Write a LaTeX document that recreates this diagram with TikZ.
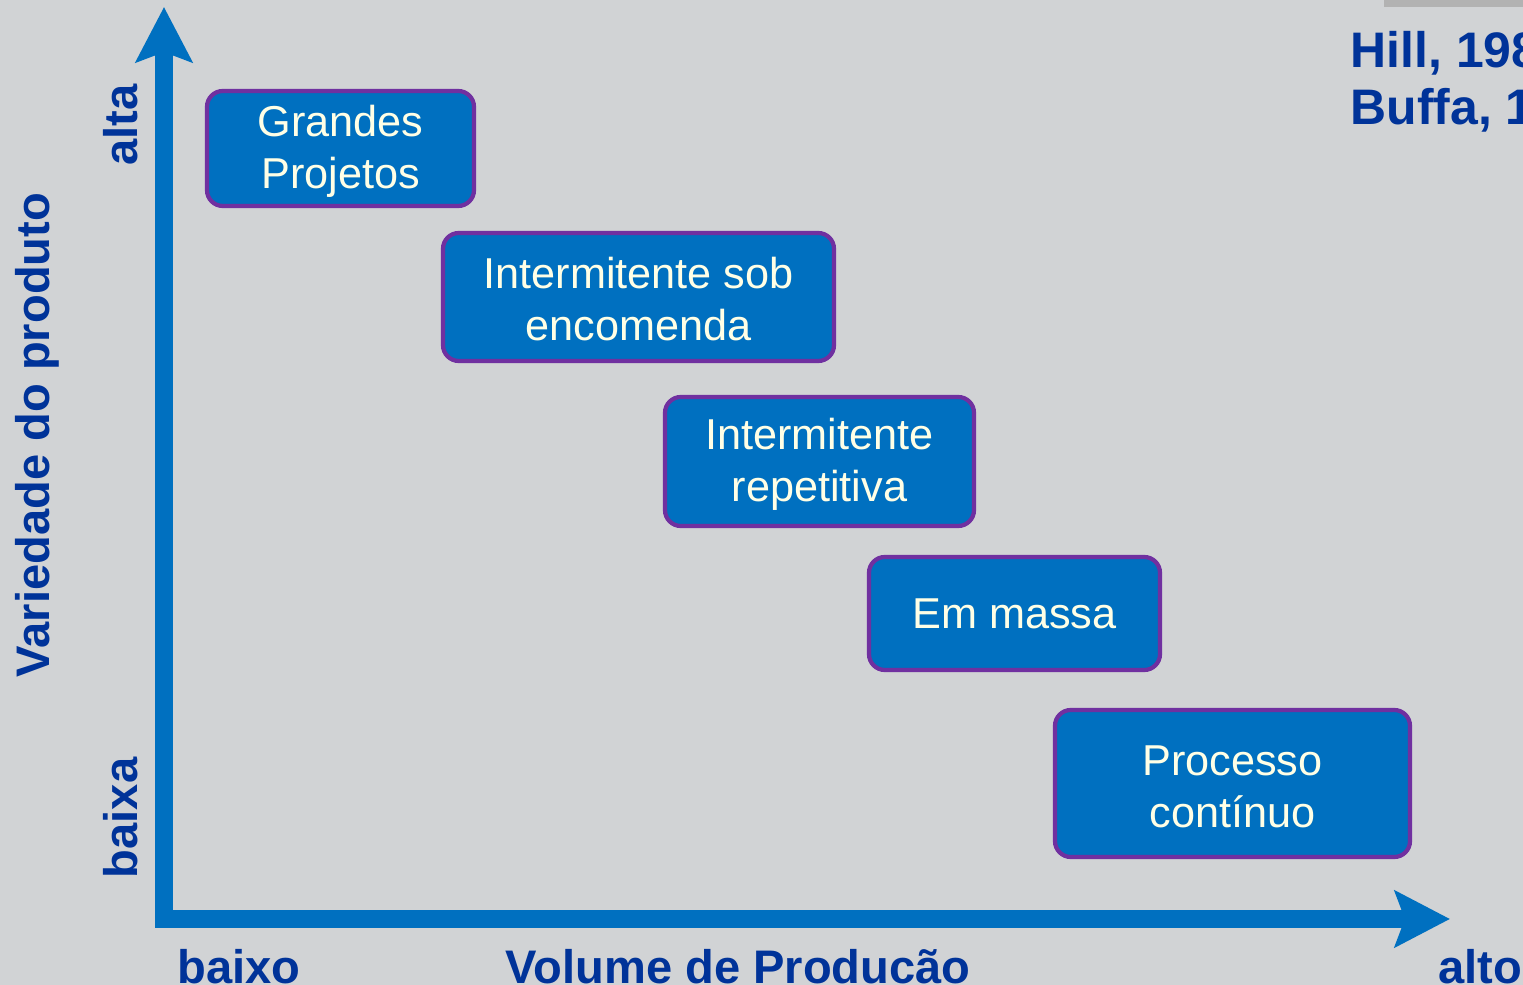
\documentclass[tikz,border=0pt]{standalone}
\usepackage{fontspec}
\setmainfont{Liberation Sans}
\usetikzlibrary{arrows.meta}
\usetikzlibrary{positioning}
\definecolor{bgray}{HTML}{D1D3D5}
\definecolor{mblue}{HTML}{0070C0}
\definecolor{mpurple}{HTML}{7030A0}
\definecolor{dblue}{HTML}{003399}
\definecolor{cream}{HTML}{FFFFE6}
\tikzset{tipo/.style = {draw = mpurple, fill = mblue, line width = 1.2pt, rounded corners = 4.5pt,
    text = cream, align = center, inner sep = 0, font = \fontsize{12.3}{14.8}\selectfont}}
\tikzset{eixo/.style = {mblue, line width = 0.18cm,
    -{Stealth[length = 0.55cm, width = 0.56cm, inset = 0.1cm]}}}
\tikzset{rotulo/.style = {dblue, inner sep = 0, font = \fontsize{13.4}{16}\selectfont\bfseries}}

\begin{document}
\begin{tikzpicture}
    \fill [bgray] (0, 0) rectangle (15.23, -9.85);
    \useasboundingbox (0, 0) rectangle (15.23, -9.85);
    \fill [gray!60] (13.84, 0) rectangle (15.23, -0.07);

    % eixos
    \coordinate (origem) at (1.64, -9.19);
    \coordinate (topo) at (1.64, -0.07);
    \coordinate (fim) at (14.50, -9.19);
    \draw [eixo] ([yshift = -0.09cm] origem) -- (topo);
    \draw [eixo] ([xshift = -0.09cm] origem) -- (fim);

    % tipos de processo
    \node [tipo, minimum width = 2.67cm, minimum height = 1.15cm] (projetos) at (3.405, -1.485) {\\[-0.16cm]Grandes\\Projetos};
    \node [tipo, minimum width = 3.91cm, minimum height = 1.28cm] (encomenda) at (6.385, -2.97) {\\[-0.16cm]Intermitente sob\\encomenda};
    \node [tipo, minimum width = 3.09cm, minimum height = 1.29cm] (repetitiva) at (8.195, -4.615) {\\[-0.16cm]Intermitente\\repetitiva};
    \node [tipo, minimum width = 2.91cm, minimum height = 1.13cm] (massa) at (10.145, -6.135) {Em massa};
    \node [tipo, minimum width = 3.55cm, minimum height = 1.47cm] (continuo) at (12.325, -7.835) {\\[-0.16cm]Processo\\contínuo};

    % rotulos
    \node [rotulo, rotate = 90, anchor = base] (alta) at (1.37, -1.25) {alta};
    \node [rotulo, rotate = 90, anchor = base] (baixa) at (1.37, -8.18) {baixa};
    \node [rotulo, rotate = 90, anchor = base] (variedade) at (0.49, -4.35) {Variedade do produto};
    \node [rotulo, anchor = base west] (baixo) at (1.77, -9.84) {baixo};
    \node [rotulo, anchor = base west] (volume) at (5.05, -9.84) {Volume de Producão};
    \node [rotulo, anchor = base west] (alto) at (14.38, -9.84) {alto};
    \node [rotulo, anchor = base west, font = \fontsize{14.2}{17}\selectfont\bfseries] (hill) at (13.50, -0.68) {Hill, 198};
    \node [rotulo, anchor = base west, font = \fontsize{14.2}{17}\selectfont\bfseries] (buffa) at (13.50, -1.25) {Buffa, 1};
  \end{tikzpicture}
\end{document}
